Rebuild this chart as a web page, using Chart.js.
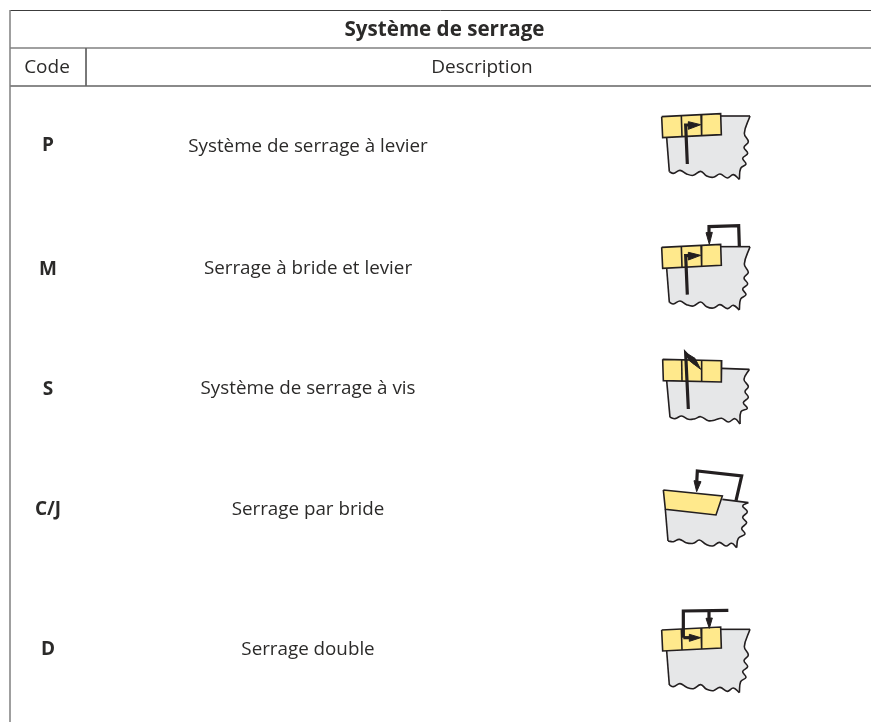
<!DOCTYPE html>
<html>
<head>
<meta charset="utf-8">
<title>Système de serrage</title>
<script src="https://cdn.jsdelivr.net/npm/chart.js@4/dist/chart.umd.min.js"></script>
<style>
    body { margin: 0; background: #fff; }
    canvas { display: block; }
</style>
</head>
<body>
<canvas id="myChart" width="871" height="722"></canvas>
<script>
const title = "Système de serrage";
const headers = ["Code", "Description"];
const codes = ["P", "M", "S", "C/J", "D"];
const descriptions = [
    "Système de serrage à levier",
    "Serrage à bride et levier",
    "Système de serrage à vis",
    "Serrage par bride",
    "Serrage double"
];
const codeY = [146, 270, 390, 510, 650];
const descY = [147, 269, 389, 510, 650];

// icon drawings, in 1/3 px from the top left of each icon box
const iconTops = [90, 210, 340, 460, 600];
const iconLeft = 640;

const stdBottom = [[88,245],[100,250],[120,241],[140,252],[160,256],[182,244],[200,258],[220,262],[240,252],[262,264],[280,254],[298,268]];
const stdRight = [[298,268],[302,235],[318,222],[308,205],[323,190],[312,172],[325,155],[313,130],[330,78]];

function shifted(pts, dy) {
    return pts.map(function (p) { return [p[0], p[1] + dy]; });
}

function stdIcon(dy) {
    return {
        body: shifted([[80,143]].concat(stdBottom, stdRight.slice(1), [[242,78]]), dy),
        edges: [shifted(stdBottom, dy), shifted(stdRight, dy)],
        outline: [shifted([[80,143],[88,245]], dy), shifted([[242,78],[330,78]], dy)],
        yellow: shifted([[65,80],[242,71],[244,134],[68,143]], dy),
        dividers: [shifted([[124,77],[126,140]], dy), shifted([[183,74],[185,137]], dy)]
    };
}

const icons = [
    Object.assign(stdIcon(0), {
        stems: [[[142,222],[137,105],[150,105]]],
        heads: [[[145,95],[182,104],[145,118]]]
    }),
    Object.assign(stdIcon(32), {
        stems: [[[142,254],[137,137],[150,137]], [[298,108],[296,47],[207,50],[207,75]]],
        heads: [[[145,127],[182,136],[145,150]], [[198,68],[217,67],[208,103]]]
    }),
    {
        body: [[80,122],[90,232],[105,236],[125,228],[145,238],[165,236],[182,230],[205,242],[225,240],[245,235],[265,246],[285,236],[300,252],[303,215],[322,205],[310,188],[325,172],[315,155],[325,140],[312,118],[328,88],[245,85]],
        edges: [
            [[90,232],[105,236],[125,228],[145,238],[165,236],[182,230],[205,242],[225,240],[245,235],[265,246],[285,236],[300,252]],
            [[300,252],[303,215],[322,205],[310,188],[325,172],[315,155],[325,140],[312,118],[328,88]]
        ],
        outline: [[[80,122],[90,232]], [[245,85],[328,88]]],
        yellow: [[68,58],[245,62],[244,126],[70,122]],
        dividers: [[[125,60],[126,124]], [[185,62],[185,126]]],
        stems: [[[145,207],[137,40],[165,70]]],
        heads: [[[137,38],[165,55],[182,88],[148,62]]]
    },
    {
        body: [[76,148],[84,243],[100,245],[118,238],[138,248],[160,250],[178,240],[198,253],[218,258],[238,247],[258,258],[275,250],[290,263],[295,235],[315,222],[305,205],[320,188],[308,172],[322,155],[308,138],[325,128],[247,118]],
        edges: [
            [[84,243],[100,245],[118,238],[138,248],[160,250],[178,240],[198,253],[218,258],[238,247],[258,258],[275,250],[290,263]],
            [[290,263],[295,235],[315,222],[305,205],[320,188],[308,172],[322,155],[308,138],[325,128]]
        ],
        outline: [[[76,148],[84,243]], [[247,118],[325,128]]],
        yellow: [[70,90],[247,108],[228,165],[76,148]],
        dividers: [],
        stems: [[[288,122],[305,48],[172,33],[170,70]]],
        heads: [[[162,62],[183,65],[170,95]]]
    },
    Object.assign(stdIcon(10), {
        stems: [[[130,113],[130,33],[265,31]], [[130,113],[155,113]], [[207,33],[207,60]]],
        heads: [[[148,103],[182,113],[148,124]], [[198,55],[217,54],[208,85]]]
    })
];

const tableLines = [
    { pts: [[10,10.5],[871,10.5]], color: "#3c3c3c", width: 1 },
    { pts: [[10,48],[871,48]], color: "#808080", width: 1.5 },
    { pts: [[10,86],[871,86]], color: "#8a8a8a", width: 2 },
    { pts: [[10,10],[10,722]], color: "#808080", width: 1.5 },
    { pts: [[86,48],[86,86]], color: "#666666", width: 1 }
];

const ink = "#231f20";
const datasets = [];

function toData(pts, top) {
    return pts.map(function (p) {
        return { x: iconLeft + p[0] / 3, y: top + p[1] / 3 };
    });
}

function addShape(pts, top, fillColor, edge) {
    datasets.push({
        data: toData(pts.concat([pts[0]]), top), showLine: true, fill: "shape", backgroundColor: fillColor,
        borderWidth: edge || 0, borderColor: edge ? fillColor : "transparent", pointRadius: 0
    });
}

function addLine(pts, top, width, tension) {
    datasets.push({
        data: toData(pts, top), showLine: true, fill: false, borderColor: ink,
        borderWidth: width, pointRadius: 0, tension: tension || 0, borderJoinStyle: "miter"
    });
}

tableLines.forEach(function (l) {
    datasets.push({
        data: l.pts.map(function (p) { return { x: p[0], y: p[1] }; }),
        showLine: true, fill: false, borderColor: l.color, borderWidth: l.width, pointRadius: 0
    });
});

icons.forEach(function (icon, i) {
    let top = iconTops[i];
    addShape(icon.body, top, "#e6e7e8");
    icon.edges.forEach(function (e) { addLine(e, top, 1.6, 0.4); });
    icon.outline.forEach(function (e) { addLine(e, top, 1.6); });
    addShape(icon.yellow, top, "#ffe98c");
    addLine(icon.yellow.concat([icon.yellow[0]]), top, 1.6);
    icon.dividers.forEach(function (e) { addLine(e, top, 1.6); });
    icon.stems.forEach(function (e) { addLine(e, top, 3.2); });
    icon.heads.forEach(function (e) { addShape(e, top, ink, 1); });
});

// chart.js paints the first dataset last, so flip to keep the layers right
datasets.reverse();

const tableText = {
    id: "tableText",
    afterDatasetsDraw(chart) {
        let ctx = chart.ctx;
        let x = chart.scales.x;
        let y = chart.scales.y;
        ctx.save();
        ctx.fillStyle = "#2b2a29";
        ctx.textAlign = "center";
        ctx.textBaseline = "middle";
        let put = function (text, px, py, font) {
            ctx.font = font;
            ctx.fillText(text, x.getPixelForValue(px), y.getPixelForValue(py));
        };
        put(title, 444.5, 30.5, "bold 20.6px 'Open Sans'");
        put(headers[0], 47, 68, "19px 'Open Sans'");
        put(headers[1], 482, 68, "19px 'Open Sans'");
        codes.forEach(function (c, i) {
            put(c, 48, codeY[i], "bold 19px 'Open Sans'");
        });
        descriptions.forEach(function (d, i) {
            put(d, 308, descY[i], "18.8px 'Open Sans'");
        });
        ctx.restore();
    }
};

new Chart(document.getElementById("myChart"), {
    type: "scatter",
    data: { datasets: datasets },
    plugins: [tableText],
    options: {
        responsive: false,
        animation: false,
        layout: { padding: 0 },
        plugins: { legend: { display: false }, tooltip: { enabled: false } },
        scales: {
            x: { type: "linear", min: 0, max: 871, display: false },
            y: { type: "linear", min: 0, max: 722, reverse: true, display: false }
        }
    }
});
</script>
</body>
</html>
